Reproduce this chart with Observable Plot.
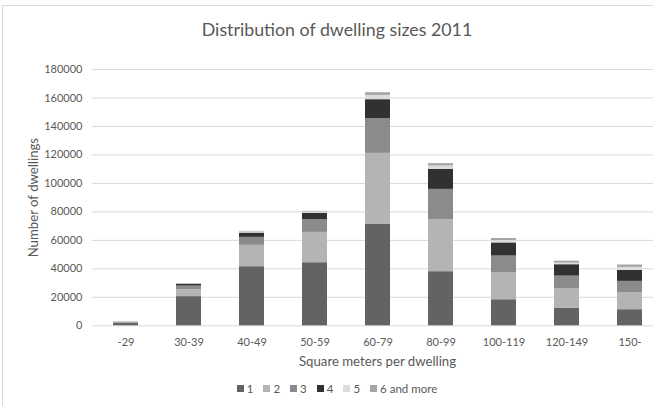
<!DOCTYPE html>
<html>
<head>
<meta charset="utf-8">
<script src="https://cdn.jsdelivr.net/npm/d3@7"></script>
<script src="https://cdn.jsdelivr.net/npm/@observablehq/plot@0.6"></script>
<style>
  html, body { margin: 0; padding: 0; background: #fff; }
  body { width: 653px; height: 406px; overflow: hidden; position: relative; font-family: Lato, "Open Sans", sans-serif; color: #595959; }
  #frame { position: absolute; left: 2px; top: 5px; width: 700px; height: 450px; border-left: 1px solid #d9d9d9; border-top: 1px solid #d9d9d9; pointer-events: none; }
  #title { height: 55px; width: 674px; text-align: center; font-size: 17.8px; line-height: 18px; box-sizing: border-box; }
  #title span { display: inline-block; margin-top: 20px; }
  #chart svg { display: block; }
  #legend { width: 674px; height: 36px; display: flex; justify-content: center; align-items: center; font-size: 11.5px; }
  .item { display: flex; align-items: center; margin: 0 5px; }
  .sw { width: 7px; height: 7px; margin-right: 3px; }
</style>
</head>
<body>
<div id="frame"></div>
<div id="title"><span>Distribution of dwelling sizes 2011</span></div>
<div id="chart"></div>
<div id="legend"></div>
<script>
const categories = ["-29", "30-39", "40-49", "50-59", "60-79", "80-99", "100-119", "120-149", "150-"];
const seriesNames = ["1", "2", "3", "4", "5", "6 and more"];
const s1 = [2000, 20500, 41500, 44300, 71200, 38000, 18300, 12400, 11300];
const s2 = [400, 4800, 15000, 21300, 49900, 36500, 19000, 13600, 11900];
const s3 = [200, 2600, 5600, 8900, 24400, 21300, 11700, 8900, 8000];
const s4 = [50, 1300, 3000, 4500, 13300, 14100, 9200, 8000, 7700];
const s5 = [50, 300, 800, 1000, 3000, 2300, 1700, 1100, 2100];
const s6 = [50, 200, 400, 400, 1900, 1700, 1400, 1400, 1700];
const yTicks = [0, 20000, 40000, 60000, 80000, 100000, 120000, 140000, 160000, 180000];
const colors = ["#636363", "#b3b4b6", "#8a8b8d", "#313131", "#dcdcdc", "#a6a6a6"];

const series = [s1, s2, s3, s4, s5, s6];
const data = categories.flatMap((c, i) => series.map((s, j) => ({cat: c, series: seriesNames[j], value: s[i]})));

const textColor = "#595959";
const chart = Plot.plot({
  width: 653,
  height: 315,
  marginTop: 14,
  marginBottom: 44.7,
  marginLeft: 92,
  marginRight: 0,
  style: {fontFamily: "Lato, 'Open Sans', sans-serif", color: textColor, background: "transparent"},
  x: {domain: categories, range: [92, 662], paddingInner: 0.605, paddingOuter: 0.3025, axis: null},
  y: {domain: [0, 180000], axis: null},
  color: {domain: seriesNames, range: colors},
  marks: [
    Plot.ruleY(yTicks, {stroke: "#d9d9d9", strokeWidth: 1}),
    Plot.barY(data, {x: "cat", y: "value", fill: "series", order: seriesNames}),
    Plot.axisY({ticks: yTicks, tickSize: 0, tickPadding: 10, tickFormat: d => String(d), fontSize: 11, fill: textColor, label: null}),
    Plot.axisX({tickSize: 0, tickPadding: 12, fontSize: 11, fill: textColor, label: null}),
    Plot.text(["Square meters per dwelling"], {frameAnchor: "bottom", lineAnchor: "middle", textAnchor: "middle", dy: 36, dx: 4.5, fontSize: 13.2, fill: textColor}),
    Plot.text(["Number of dwellings"], {frameAnchor: "left", textAnchor: "middle", lineAnchor: "middle", rotate: -90, dx: -59, fontSize: 13.2, fill: textColor})
  ]
});
document.getElementById("chart").appendChild(chart);

const legend = document.getElementById("legend");
seriesNames.forEach((n, i) => {
  const it = document.createElement("div");
  it.className = "item";
  const sw = document.createElement("div");
  sw.className = "sw";
  sw.style.background = colors[i];
  const lab = document.createElement("span");
  lab.textContent = n;
  it.appendChild(sw);
  it.appendChild(lab);
  legend.appendChild(it);
});
</script>
</body>
</html>
